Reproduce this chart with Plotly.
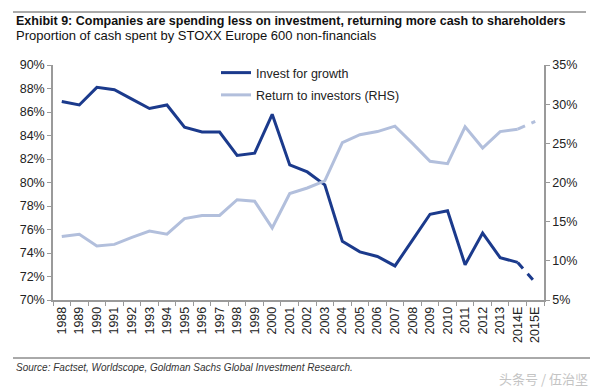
import plotly.graph_objects as go

years = ["1988", "1989", "1990", "1991", "1992", "1993", "1994", "1995", "1996", "1997",
         "1998", "1999", "2000", "2001", "2002", "2003", "2004", "2005", "2006", "2007",
         "2008", "2009", "2010", "2011", "2012", "2013", "2014E", "2015E"]

invest_growth = [86.9, 86.6, 88.1, 87.9, 87.1, 86.3, 86.6, 84.7, 84.3, 84.3,
                 82.3, 82.5, 85.8, 81.5, 80.9, 79.8, 75.0, 74.1, 73.7, 72.9,
                 75.1, 77.3, 77.6, 73.0, 75.7, 73.6, 73.2, 71.5]

return_investors = [13.1, 13.4, 11.9, 12.1, 13.0, 13.8, 13.4, 15.4, 15.8, 15.8,
                    17.8, 17.6, 14.2, 18.6, 19.3, 20.2, 25.1, 26.1, 26.5, 27.2,
                    25.0, 22.7, 22.4, 27.1, 24.4, 26.5, 26.8, 27.8]

n_actual = 27  # points drawn solid (through 2014E); last segment dashed

dark = "#1B3A8C"
light = "#B2BFDC"
axis_col = "#9a9a9a"
font_fam = "Liberation Sans, Arial, sans-serif"

fig = go.Figure()

fig.add_trace(go.Scatter(x=years[:n_actual], y=invest_growth[:n_actual], mode="lines",
                         name="Invest for growth", line=dict(color=dark, width=3),
                         legendgroup="a"))
fig.add_trace(go.Scatter(x=years[n_actual - 1:], y=invest_growth[n_actual - 1:], mode="lines",
                         showlegend=False, line=dict(color=dark, width=3, dash="8px,7px")))
fig.add_trace(go.Scatter(x=years[:n_actual], y=return_investors[:n_actual], mode="lines",
                         name="Return to investors (RHS)", line=dict(color=light, width=3),
                         yaxis="y2", legendgroup="b"))
fig.add_trace(go.Scatter(x=years[n_actual - 1:], y=return_investors[n_actual - 1:], mode="lines",
                         showlegend=False, line=dict(color=light, width=3, dash="8px,7px"),
                         yaxis="y2"))

L, R, T, B = 53, 56, 65, 89
W, H = 600, 389
pw = W - L - R
ph = H - T - B

def px(x):
    return (x - L) / pw

def py(y):
    return (H - B - y) / ph

fig.update_layout(
    width=W, height=H,
    margin=dict(l=L, r=R, t=T, b=B),
    paper_bgcolor="white", plot_bgcolor="white",
    font=dict(family=font_fam, size=12, color="#222"),
    xaxis=dict(type="category", range=[-0.5, 27.5], showgrid=False, showline=True,
               linecolor=axis_col, linewidth=1.5, ticks="outside", tickson="boundaries",
               ticklen=4, tickcolor=axis_col, tickangle=-90, tickfont=dict(size=12.5),
               zeroline=False),
    yaxis=dict(range=[70, 90], dtick=2, ticksuffix="%", showgrid=False, showline=True,
               linecolor=axis_col, linewidth=1.5, ticks="outside", ticklen=4,
               tickcolor=axis_col, tickfont=dict(size=12.5), zeroline=False),
    yaxis2=dict(range=[5, 35], dtick=5, ticksuffix="%", overlaying="y", side="right",
                showgrid=False, showline=True, linecolor=axis_col, linewidth=1.5,
                ticks="outside", ticklen=4, tickcolor=axis_col, tickfont=dict(size=12.5),
                zeroline=False),
    legend=dict(x=px(216), y=py(58), xanchor="left", yanchor="top",
                bgcolor="rgba(0,0,0,0)", font=dict(size=12.5), tracegroupgap=3),
    showlegend=True,
)

fig.add_annotation(x=px(14), y=py(21), xref="paper", yref="paper", xanchor="left",
                   yanchor="middle", showarrow=False,
                   text="<b>Exhibit 9: Companies are spending less on investment, returning more cash to shareholders</b>",
                   font=dict(size=12.5, color="#111"))
fig.add_annotation(x=px(14), y=py(35), xref="paper", yref="paper", xanchor="left",
                   yanchor="middle", showarrow=False,
                   text="Proportion of cash spent by STOXX Europe 600 non-financials",
                   font=dict(size=13, color="#111"))
fig.add_annotation(x=px(14), y=py(367), xref="paper", yref="paper", xanchor="left",
                   yanchor="middle", showarrow=False,
                   text="<i>Source: Factset, Worldscope, Goldman Sachs Global Investment Research.</i>",
                   font=dict(size=10, color="#333"))
fig.add_annotation(x=px(590), y=py(378), xref="paper", yref="paper", xanchor="right",
                   yanchor="middle", showarrow=False,
                   text="头条号 / 伍治坚",
                   font=dict(size=13, color="#c4c4c4", family="Noto Sans CJK SC"))

fig.add_shape(type="line", xref="paper", yref="paper", x0=px(13), x1=px(586),
              y0=py(12), y1=py(12), line=dict(color="#555", width=1))
fig.add_shape(type="line", xref="paper", yref="paper", x0=px(13), x1=px(590),
              y0=py(358), y1=py(358), line=dict(color="#555", width=1))

fig.write_html("out.html", config={"displayModeBar": False},
               post_script="document.body.style.margin='0';document.body.style.overflow='hidden';")
